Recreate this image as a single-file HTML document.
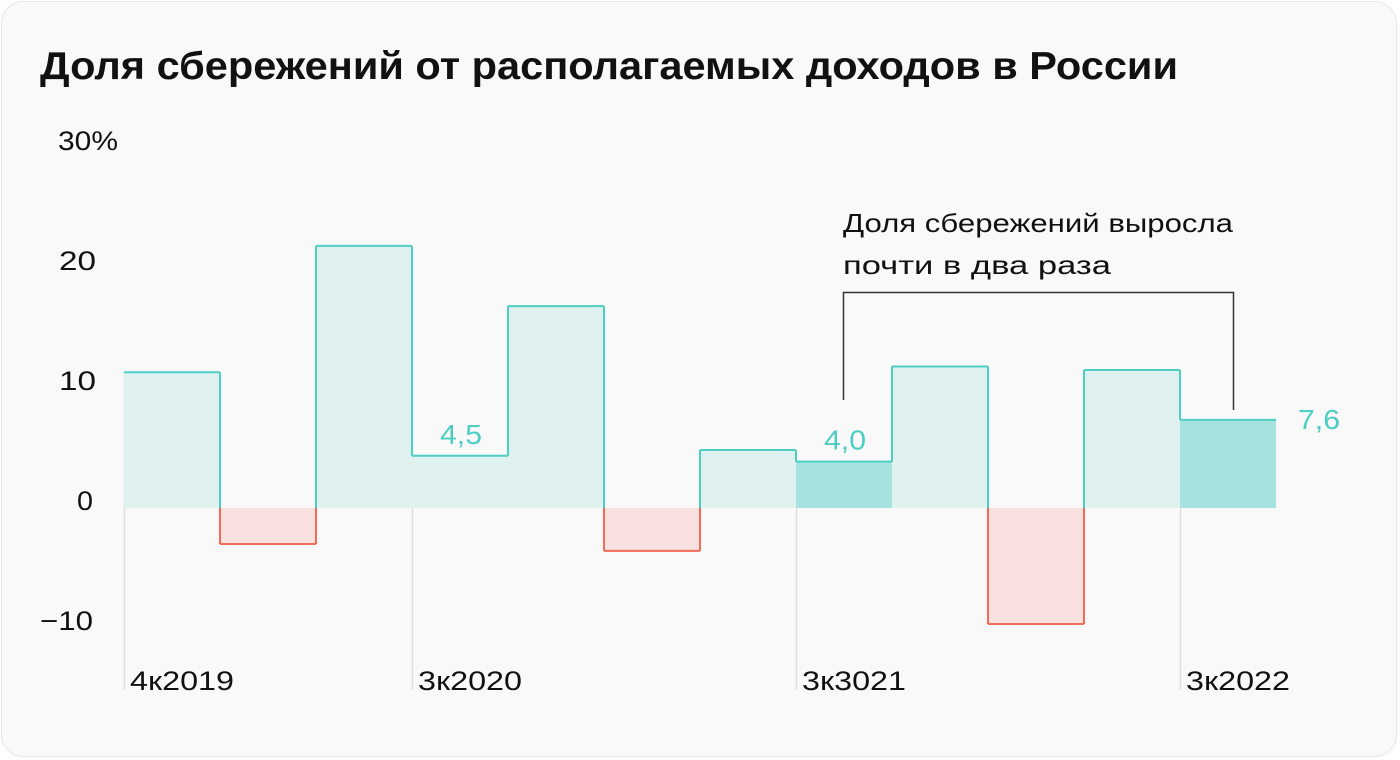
<!DOCTYPE html>
<html><head><meta charset="utf-8">
<style>
html,body{margin:0;padding:0;background:#fff;}
#card{position:absolute;left:1px;top:1px;width:1394px;height:754px;border:1.5px solid #e6e6e6;border-radius:22px;background:#f9f9f9;overflow:hidden;}
svg{position:absolute;left:0;top:0;}
text{font-family:"Liberation Sans",sans-serif;}
</style></head><body>
<div id="card"></div>
<svg id="chart" width="1400" height="760">
<text x="40" y="79" font-size="39" font-weight="bold" fill="#111" textLength="1138" lengthAdjust="spacingAndGlyphs">Доля сбережений от располагаемых доходов в России</text>
<g id="yaxis"></g>
<g id="grid"></g>
<g id="bars"></g>
<g id="steps"></g>
<g id="xaxis"></g>
<g id="labels"></g>
<g>
<text x="843" y="232" font-size="26" fill="#111" textLength="390" lengthAdjust="spacingAndGlyphs">Доля сбережений выросла</text>
<text x="843" y="274" font-size="26" fill="#111" textLength="268" lengthAdjust="spacingAndGlyphs">почти в два раза</text>
<path d="M843.5 400 V292.5 H1233.5 V410" fill="none" stroke="#333" stroke-width="1.5"/>
</g>
</svg>
<script>
const categories=["4к2019","1к2020","2к2020","3к2020","4к2020","1к2021","2к2021","3к3021","4к2021","1к2022","2к2022","3к2022"];
const values=[11.7,-3.1,22.6,4.5,17.4,-3.7,5.0,4.0,12.2,-10.0,11.9,7.6];
const highlighted=[7,11];
const yTicks=[30,20,10,0,-10];
const yTickLabels=["30%","20","10","0","−10"];
const xLabelIdx=[0,3,7,11];
const valueLabelIdx=[3,7,11];
const valueLabelText=["4,5","4,0","7,6"];

const NS="http://www.w3.org/2000/svg";
const x0=124,bw=96,zeroY=508,k=11.6;
const xs=i=>x0+i*bw;
const ys=v=>zeroY-v*k;
const tickY=v=>500+10-v*12;
function mk(tag,attrs,parent){const e=document.createElementNS(NS,tag);for(const a in attrs)e.setAttribute(a,attrs[a]);parent.appendChild(e);return e;}
const g=id=>document.getElementById(id);

yTicks.forEach((v,i)=>{
 const lab=yTickLabels[i];
 const w=lab==="30%"?60:(lab==="0"?16:(lab==="−10"?53:37));
 const t=mk('text',{x:v===30?58:(v===-10?40:(v===0?77:59)),y:tickY(v),'font-size':27,fill:'#111',textLength:w,lengthAdjust:'spacingAndGlyphs'},g('yaxis'));
 
 
 t.textContent=lab;
});
xLabelIdx.forEach(i=>{
 const l=mk('line',{x1:xs(i)+0.5,x2:xs(i)+0.5,y1:Math.min(ys(values[i]),zeroY),y2:690,stroke:'#dcdcdc','stroke-width':1.5},g('grid'));
 
 
 const t=mk('text',{x:xs(i)+6,y:690,'font-size':27,fill:'#111',textLength:104,lengthAdjust:'spacingAndGlyphs'},g('xaxis'));
 
 
 t.textContent=categories[i];
});
values.forEach((v,i)=>{
 const pos=v>=0;
 const fill=pos?(highlighted.includes(i)?'#a6e3de':'#dff2ef'):'#f8e1df';
 const r=mk('rect',{x:xs(i),y:Math.min(ys(v),zeroY),width:bw,height:Math.abs(ys(v)-zeroY),fill:fill},g('bars'));
 
 
});
values.forEach((v,i)=>{
 const col=v>=0?'#4ecdc4':'#f26b5b';
 const h=mk('line',{x1:xs(i),x2:xs(i+1),y1:ys(v),y2:ys(v),stroke:col,'stroke-width':2},g('steps'));
 
 
 if(i<values.length-1){
  const a=ys(v),b=ys(values[i+1]);
  const segs=[];
  const lo=Math.min(a,b),hi=Math.max(a,b);
  if(lo<zeroY) segs.push([lo,Math.min(hi,zeroY),'#4ecdc4']);
  if(hi>zeroY) segs.push([Math.max(lo,zeroY),hi,'#f26b5b']);
  segs.forEach(s=>{
   const vl=mk('line',{x1:xs(i+1),x2:xs(i+1),y1:s[0],y2:s[1],stroke:s[2],'stroke-width':2},g('steps'));
   
   
  });
 }
});
valueLabelIdx.forEach((i,j)=>{
 const last=i===values.length-1;
 const t=mk('text',{x:last?xs(i)+bw+22:xs(i)+28,y:ys(values[i])-(last?-9:12),'font-size':28,fill:'#4ecdc4',textLength:42,lengthAdjust:'spacingAndGlyphs'},g('labels'));
 
 
 t.textContent=valueLabelText[j];
});
</script>
</body></html>
